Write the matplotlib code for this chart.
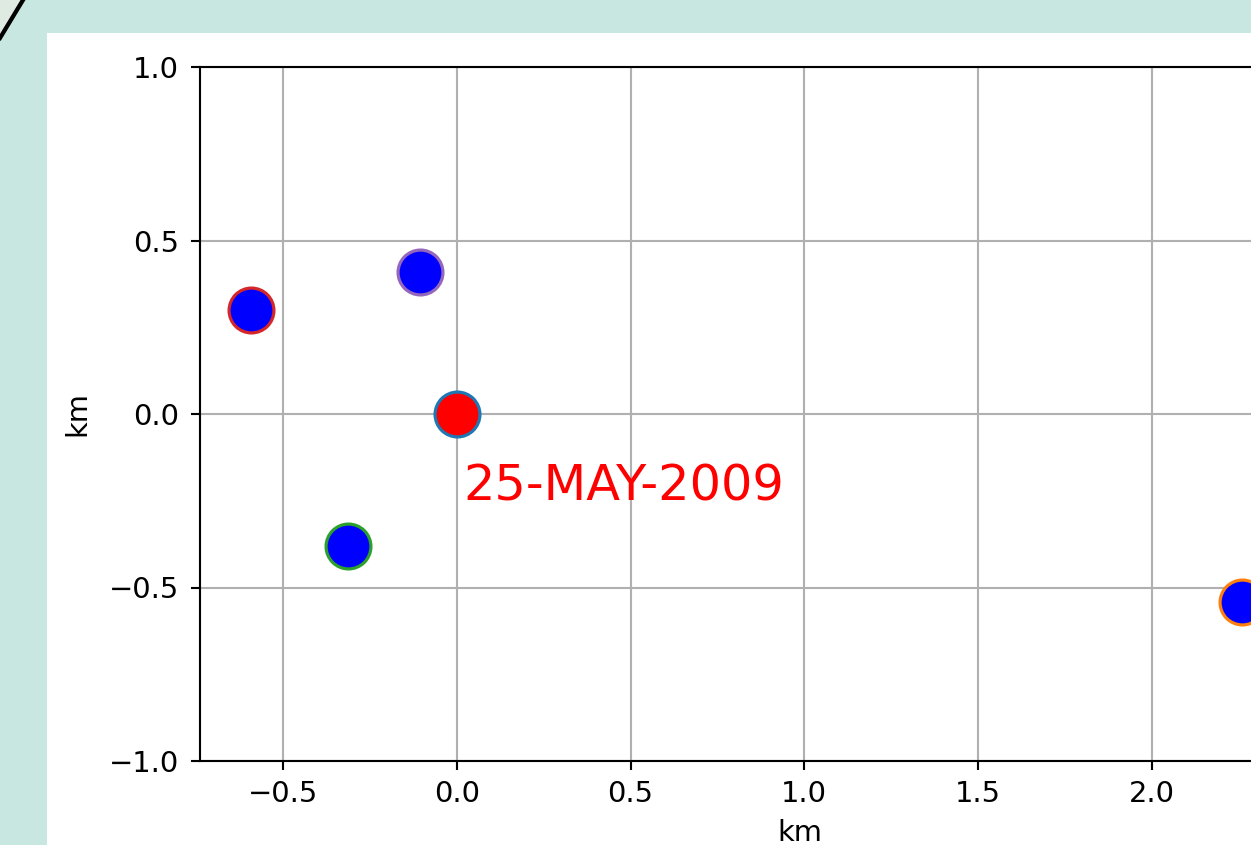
import matplotlib
matplotlib.use("Agg")
import matplotlib.pyplot as plt
from matplotlib.patches import Rectangle, Polygon
from matplotlib.lines import Line2D

# event positions relative to the main event (km)
x_km = [0.0, 2.26, -0.314, -0.592, -0.106]
y_km = [0.0, -0.542, -0.380, 0.300, 0.409]
face_colors = ["red", "blue", "blue", "blue", "blue"]
edge_colors = ["tab:blue", "tab:orange", "tab:green", "tab:red", "tab:purple"]
label_text = "25-MAY-2009"
x_ticks = [-0.5, 0.0, 0.5, 1.0, 1.5, 2.0]
y_ticks = [-1.0, -0.5, 0.0, 0.5, 1.0]

W, H, DPI = 1251, 845, 190
PAGE_BG = "#c7e7e0"

plt.rcParams["font.size"] = 11
plt.rcParams["xtick.major.pad"] = 3.8
plt.rcParams["ytick.major.pad"] = 4.5

fig = plt.figure(figsize=(W / DPI, H / DPI), dpi=DPI, facecolor=PAGE_BG)

# lighter corner + black stroke at the top-left of the page
fig.add_artist(Polygon([(0, 1), (0, 1 - 38 / H), (23 / W, 1)], closed=True,
                       transform=fig.transFigure, facecolor="#dfeae3",
                       edgecolor="none", zorder=-2))
fig.add_artist(Line2D([0, 23 / W], [1 - 38 / H, 1], transform=fig.transFigure,
                      color="black", linewidth=1.6, zorder=-1))

# white figure panel, cut off by the right and bottom of the screenshot
fig.add_artist(Rectangle((47 / W, -0.1), 1.2, 1 - 33 / H + 0.1,
                         transform=fig.transFigure, facecolor="white",
                         edgecolor="none", zorder=-1))

ax_left, ax_right, ax_top, ax_bottom = 200, 1400, 67, 761
ax = fig.add_axes([ax_left / W, (H - ax_bottom) / H,
                   (ax_right - ax_left) / W, (ax_bottom - ax_top) / H])

for xi, yi, fc, ec in zip(x_km, y_km, face_colors, edge_colors):
    ax.plot(xi, yi, "o", markersize=17, markerfacecolor=fc,
            markeredgecolor=ec, markeredgewidth=1.2, zorder=3)

ax.text(0.02, -0.25, label_text, color="red", fontsize=18.7,
        ha="left", va="baseline", zorder=4)

px_per_unit = 347.5
x0 = -0.5 - (283 - ax_left) / px_per_unit
ax.set_xlim(x0, x0 + (ax_right - ax_left) / px_per_unit)
ax.set_ylim(-1.0, 1.0)
ax.set_xticks(x_ticks)
ax.set_yticks(y_ticks)
ax.grid(True)
ax.set_axisbelow(True)
ax.set_xlabel("km")
ax.set_ylabel("km", labelpad=6.5)

fig.savefig("out.png", dpi=DPI, facecolor=PAGE_BG)
